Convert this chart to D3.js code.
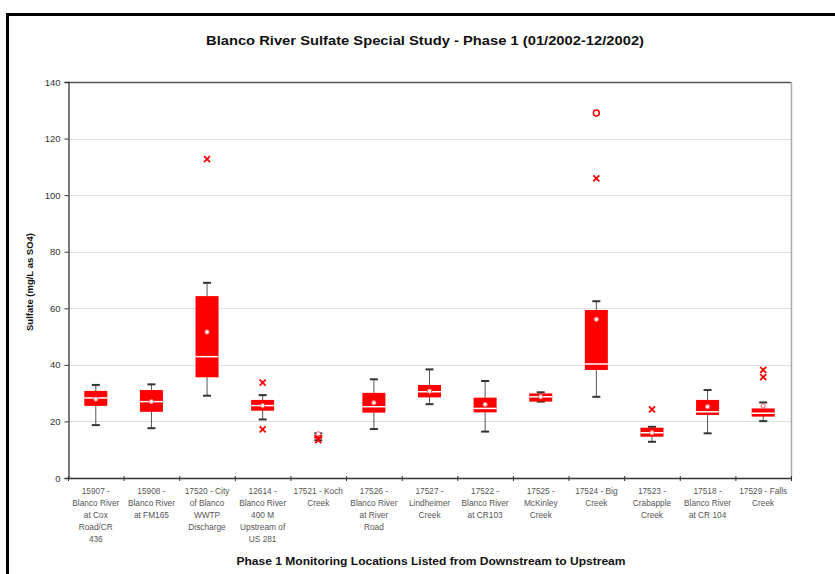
<!DOCTYPE html>
<html><head><meta charset="utf-8">
<script src="https://cdn.jsdelivr.net/npm/d3@7"></script>
<style>body{margin:0;background:#fff}svg{display:block}text{font-family:"Liberation Sans",Arial,sans-serif}</style>
</head><body>
<script>
const categories = [
 ["15907 -","Blanco River","at Cox","Road/CR","436"],
 ["15908 -","Blanco River","at FM165"],
 ["17520 - City","of Blanco","WWTP","Discharge"],
 ["12614 -","Blanco River","400 M","Upstream of","US 281"],
 ["17521 - Koch","Creek"],
 ["17526 -","Blanco River","at River","Road"],
 ["17527 -","Lindheimer","Creek"],
 ["17522 -","Blanco River","at CR103"],
 ["17525 -","McKinley","Creek"],
 ["17524 - Big","Creek"],
 ["17523 -","Crabapple","Creek"],
 ["17518 -","Blanco River","at CR 104"],
 ["17529 - Falls","Creek"]
];
const whiskerLow  = [18.7, 17.6, 29.1, 20.7, 13.3, 17.3, 26.1, 16.4, 27.0, 28.7, 12.8, 15.8, 20.1];
const q1          = [25.5, 23.4, 35.6, 23.8, 14.0, 23.1, 28.5, 23.2, 27.0, 38.2, 14.6, 22.3, 21.7];
const median      = [28.3, 27.0, 42.9, 25.6, 14.6, 25.2, 30.5, 24.6, 28.7, 40.3, 16.0, 23.4, 22.9];
const q3          = [30.8, 31.1, 64.3, 27.6, 15.2, 30.1, 32.9, 28.4, 29.9, 59.4, 17.8, 27.6, 24.6];
const whiskerHigh = [32.9, 33.1, 69.0, 29.3, 15.8, 34.9, 38.4, 34.3, 30.3, 62.5, 18.1, 31.1, 26.7];
const meanVals    = [27.9, 27.0, 51.6, 25.6, 15.6, 26.6, 30.7, 26.0, 28.7, 56.1, 16.0, 25.2, 25.5];
const outliersX   = [[], [], [112.7], [33.7, 17.2], [13.4], [], [], [], [], [105.9], [24.3], [], [38.2, 35.7]];
const outliersO   = [[], [], [], [], [], [], [], [], [], [129.0], [], [], []];
const yTicks = [0, 20, 40, 60, 80, 100, 120, 140];
const titleText = "Blanco River Sulfate Special Study - Phase 1 (01/2002-12/2002)";
const xTitle = "Phase 1 Monitoring Locations Listed from Downstream to Upstream";
const yTitle = "Sulfate (mg/L as SO4)";

const W = 835, H = 574;
const L = 68, R = 791, T = 82, B = 478;
const svg = d3.select("body").append("svg").attr("width", W).attr("height", H);

// frame
svg.append("line").attr("x1", 7).attr("x2", W).attr("y1", 14.5).attr("y2", 14.5).attr("stroke", "#000").attr("stroke-width", 3);
svg.append("line").attr("x1", 7.5).attr("x2", 7.5).attr("y1", 13).attr("y2", H).attr("stroke", "#000").attr("stroke-width", 3);

const x = d3.scaleBand().domain(d3.range(categories.length)).range([L, R]).padding(0);
const y = d3.scaleLinear().domain([0, 140]).range([B, T]);

// gridlines
svg.append("g").selectAll("line").data(yTicks.filter(d => d > 0 && d < 140)).join("line")
  .attr("x1", L).attr("x2", R).attr("y1", d => Math.round(y(d)) + 0.5).attr("y2", d => Math.round(y(d)) + 0.5)
  .attr("stroke", "#e0e0e0").attr("stroke-width", 1.2);

// plot border top/right
svg.append("line").attr("x1", L).attr("x2", R).attr("y1", y(140) + 0.5).attr("y2", y(140) + 0.5).attr("stroke", "#555").attr("stroke-width", 1.5);
svg.append("line").attr("x1", R + 0.5).attr("x2", R + 0.5).attr("y1", T).attr("y2", B).attr("stroke", "#aaa").attr("stroke-width", 1.5);

// y axis
const yAxis = d3.axisLeft(y).tickValues(yTicks).tickSize(4).tickPadding(4);
const gy = svg.append("g").attr("transform", `translate(${L + 0.5},0)`).call(yAxis);
gy.select(".domain").attr("stroke", "#333").attr("stroke-width", 1.3);
gy.selectAll(".tick line").attr("stroke", "#333");
gy.selectAll(".tick text").attr("font-size", 9.5).attr("fill", "#333").style("font-family", "Liberation Sans, Arial, sans-serif");

// x axis line + ticks at boundaries
svg.append("line").attr("x1", L).attr("x2", R).attr("y1", B + 0.5).attr("y2", B + 0.5).attr("stroke", "#333").attr("stroke-width", 1.3);
svg.append("g").selectAll("line").data(d3.range(categories.length + 1)).join("line")
  .attr("x1", i => (i < categories.length ? x(i) : R) + 0.5).attr("x2", i => (i < categories.length ? x(i) : R) + 0.5)
  .attr("y1", B - 2).attr("y2", B + 3).attr("stroke", "#333");

// x labels
const lab = svg.append("g");
categories.forEach((lines, i) => {
  const t = lab.append("text").attr("text-anchor", "middle").attr("font-size", 8.3).attr("fill", "#555");
  lines.forEach((s, j) => t.append("tspan").attr("x", x(i) + x.bandwidth() / 2).attr("y", 494 + j * 12).text(s));
});

// boxes
const bw = 23;
const g = svg.append("g");
categories.forEach((c, i) => {
  const cx = x(i) + x.bandwidth() / 2;
  const narrow = (q3[i] - q1[i]) < 2;
  const w = narrow ? 8 : bw;
  g.append("line").attr("x1", cx).attr("x2", cx).attr("y1", y(whiskerHigh[i])).attr("y2", y(whiskerLow[i])).attr("stroke", "#555").attr("stroke-width", 1);
  [whiskerHigh[i], whiskerLow[i]].forEach(v => g.append("line").attr("x1", cx - 4).attr("x2", cx + 4).attr("y1", y(v)).attr("y2", y(v)).attr("stroke", "#333").attr("stroke-width", 2));
  g.append("rect").attr("x", cx - w / 2).attr("width", w).attr("y", y(q3[i])).attr("height", y(q1[i]) - y(q3[i])).attr("fill", "#ff0000");
  if (!narrow) g.append("line").attr("x1", cx - w / 2).attr("x2", cx + w / 2).attr("y1", y(median[i])).attr("y2", y(median[i])).attr("stroke", "#fff").attr("stroke-width", 1.5);
  g.append("circle").attr("cx", cx).attr("cy", y(meanVals[i])).attr("r", 2.2).attr("fill", "#fff").attr("stroke", "#ff6060").attr("stroke-width", 1);
  outliersX[i].forEach(v => {
    const yy = y(v), s = 3;
    g.append("path").attr("d", `M${cx - s},${yy - s}L${cx + s},${yy + s}M${cx - s},${yy + s}L${cx + s},${yy - s}`).attr("stroke", "#ff0000").attr("stroke-width", 1.8);
  });
  outliersO[i].forEach(v => {
    g.append("circle").attr("cx", cx).attr("cy", y(v)).attr("r", 3).attr("fill", "#fff").attr("stroke", "#ff0000").attr("stroke-width", 1.5);
  });
});

// titles
svg.append("text").attr("x", 425).attr("y", 45).attr("text-anchor", "middle").attr("font-size", 13.5).attr("font-weight", "bold").attr("fill", "#111")
  .attr("textLength", 438).attr("lengthAdjust", "spacingAndGlyphs").text(titleText);
svg.append("text").attr("x", 431).attr("y", 565).attr("text-anchor", "middle").attr("font-size", 11).attr("font-weight", "bold").attr("fill", "#111")
  .attr("textLength", 389).attr("lengthAdjust", "spacingAndGlyphs").text(xTitle);
svg.append("text").attr("transform", "translate(33,282) rotate(-90)").attr("text-anchor", "middle").attr("font-size", 9.5).attr("font-weight", "bold").attr("fill", "#111").text(yTitle);
</script>
</body></html>
